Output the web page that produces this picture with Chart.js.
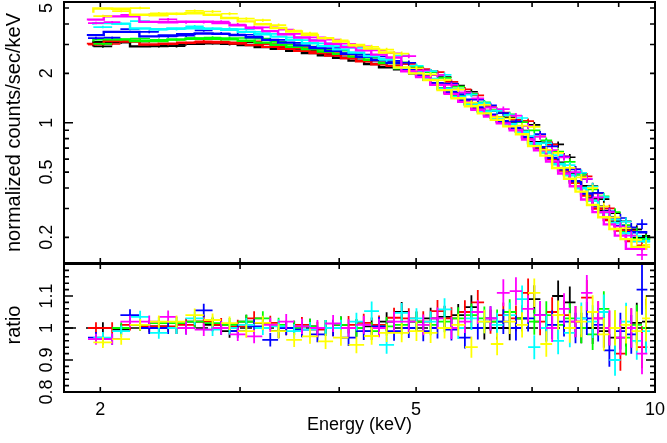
<!DOCTYPE html>
<html><head><meta charset="utf-8">
<script src="https://cdn.jsdelivr.net/npm/chart.js@4.4.1/dist/chart.umd.min.js"></script>
<style>
html,body{margin:0;padding:0;background:#fff;}
#wrap{position:relative;width:667px;height:443px;overflow:hidden;background:#fff;}
#c1{position:absolute;left:0;top:0;}
#c2{position:absolute;left:0;top:263px;}
</style></head><body>
<div id="wrap"><canvas id="c1" width="667" height="264" style="width:667px;height:264px"></canvas><canvas id="c2" width="667" height="180" style="width:667px;height:180px"></canvas></div>
<script>
// ---------- data ----------
const seriesColors = ['#000000','#ff0000','#00ff00','#0000ff','#00ffff','#ff00ff','#ffff00'];

// energy bin edges (keV)
const edgesA = [1.96,2.07,2.18,2.31,2.43,2.56,2.70,2.84,2.98,3.13,3.28,3.43,3.59,3.76,3.93,4.11,4.30,4.49,4.69,4.90,5.11,5.32,5.54,5.76,5.98,6.21,6.44,6.68,6.92,7.17,7.42,7.68,7.94,8.21,8.48,8.76,9.05,9.34,9.63,9.86];
const edgesB = [1.93,2.02,2.12,2.24,2.37,2.50,2.63,2.77,2.91,3.05,3.20,3.35,3.51,3.67,3.84,4.02,4.20,4.39,4.59,4.79,5.00,5.21,5.43,5.65,5.87,6.09,6.32,6.56,6.80,7.04,7.29,7.55,7.81,8.07,8.34,8.62,8.90,9.19,9.48,9.78];

// model (normalized counts/sec/keV) per bin
const modelBlack   = [2.92,3.10,3.10,2.92,2.93,3.00,3.03,3.05,3.03,2.97,2.89,2.82,2.74,2.66,2.58,2.49,2.39,2.28,2.18, 2.12,2.00,1.83,1.62,1.45,1.30,1.18,1.08,0.99,0.89,0.76,0.67,0.57,0.49,0.41,0.345,0.29,0.25,0.22,0.20];
const modelRed     = [3.00,3.02,3.15,3.12,3.00,3.03,3.07,3.09,3.08,3.04,2.97,2.90,2.82,2.74,2.66,2.57,2.47,2.37,2.27, 2.22,2.08,1.93,1.72,1.52,1.36,1.22,1.11,1.01,0.92,0.81,0.70,0.60,0.51,0.43,0.36,0.30,0.255,0.22,0.19];
const modelGreen   = [3.13,3.22,3.22,3.15,3.15,3.22,3.25,3.25,3.22,3.16,3.08,2.99,2.90,2.81,2.72,2.63,2.53,2.42,2.31, 2.15,2.01,1.84,1.61,1.44,1.29,1.17,1.07,0.98,0.88,0.75,0.66,0.56,0.48,0.40,0.335,0.285,0.245,0.215,0.195];
const modelBlue    = [3.38,3.42,3.58,3.58,3.36,3.40,3.47,3.50,3.48,3.42,3.32,3.20,3.08,2.96,2.85,2.74,2.63,2.52,2.41, 2.32,2.10,1.95,1.74,1.54,1.38,1.24,1.12,1.02,0.93,0.82,0.71,0.61,0.52,0.44,0.37,0.31,0.265,0.235,0.215];
const modelCyan    = [3.95,4.05,4.02,3.75,3.72,3.75,3.77,3.74,3.68,3.58,3.46,3.35,3.20,3.05,2.93,2.80,2.68,2.55,2.45, 2.16,2.02,1.85,1.61,1.44,1.29,1.17,1.07,0.98,0.88,0.75,0.66,0.56,0.48,0.40,0.335,0.285,0.245,0.212,0.19];
const modelMagenta = [4.20,4.25,4.45,4.45,4.12,4.10,4.13,4.13,4.05,3.92,3.78,3.62,3.46,3.31,3.17,3.03,2.89,2.76,2.60, 2.50,2.06,1.90,1.70,1.50,1.34,1.20,1.09,0.99,0.90,0.79,0.68,0.58,0.49,0.41,0.34,0.285,0.24,0.205,0.17];
const modelYellow  = [4.68,4.97,4.95,4.55,4.52,4.62,4.65,4.55,4.35,4.15,3.98,3.78,3.60,3.43,3.28,3.12,2.98,2.83,2.68, 2.17,2.00,1.82,1.58,1.41,1.26,1.14,1.04,0.95,0.85,0.72,0.63,0.53,0.455,0.38,0.315,0.265,0.225,0.195,0.175];

// data / model ratio per bin
const ratioBlack   = [1.00,0.995,1.01,1.005,1.00,1.02,1.01,0.99,1.02,1.015,0.99,1.00,1.005,1.00,1.01,1.00,1.005,1.02,1.05, 1.02,1.03,1.035,1.04,1.065,1.00,1.00,1.00,1.03,1.09,1.00,1.10,1.08,1.00,1.00,0.99,0.97,1.00,1.016,1.02];
const ratioRed     = [1.00,1.00,1.01,1.005,1.005,1.01,1.02,1.01,1.005,1.03,1.016,1.00,1.01,0.995,1.00,1.01,1.016,1.01,1.032, 1.03,1.02,1.053,1.03,1.05,1.08,1.02,1.04,1.03,1.11,1.02,1.05,1.04,1.02,1.095,1.03,1.00,0.92,1.00,0.94];
const ratioGreen   = [0.965,1.00,1.01,1.015,1.015,1.02,1.015,1.01,1.02,1.03,1.01,1.00,1.005,1.00,1.01,1.00,0.99,1.005,1.01, 1.02,1.01,1.02,1.03,1.04,1.03,1.02,1.05,1.03,1.02,1.04,1.01,1.03,1.00,0.98,1.06,1.00,0.97,1.01,1.00];
const ratioBlue    = [0.97,0.965,1.04,1.00,1.00,1.00,1.055,1.00,0.99,1.005,0.963,1.00,0.995,0.98,1.00,0.97,0.99,1.005,0.99, 1.00,0.99,1.00,0.995,0.97,1.00,1.03,1.02,1.00,1.03,1.04,1.01,1.02,1.00,1.03,1.01,0.93,0.99,0.98,1.12];
const ratioCyan    = [0.97,0.99,1.035,0.985,1.00,1.03,0.995,1.00,1.01,1.00,1.005,0.99,0.995,1.00,1.00,1.02,1.053,0.947,1.047, 1.03,1.02,1.058,1.00,1.03,1.02,1.01,1.04,1.09,0.94,1.00,0.96,0.985,1.03,1.02,1.05,0.90,1.02,0.96,0.99];
const ratioMagenta = [0.965,0.965,1.02,1.02,1.035,1.00,0.995,1.00,0.98,0.974,1.01,1.02,1.005,1.00,1.014,1.00,1.01,1.00,1.02, 1.02,1.01,1.03,1.00,1.02,1.05,1.03,1.11,1.115,1.06,1.04,1.00,1.06,1.02,1.11,1.03,1.00,0.97,1.00,0.92];
const ratioYellow  = [0.955,0.965,1.01,1.02,1.02,1.04,1.025,1.015,0.99,1.016,0.99,0.963,0.974,0.958,0.97,0.947,0.975,0.985,0.985, 0.99,0.985,1.00,1.01,0.94,1.02,0.95,1.02,1.01,1.11,0.95,1.04,1.00,1.02,1.05,0.98,1.00,1.01,0.99,1.03];

// relative 1-sigma errors per bin
const relErr = [0.018,0.018,0.018,0.019,0.019,0.020,0.020,0.021,0.021,0.022,0.022,0.023,0.024,0.025,0.026,0.027,0.028,0.029,0.030,0.031,0.032,0.033,0.034,0.035,0.036,0.037,0.038,0.039,0.040,0.042,0.044,0.046,0.048,0.050,0.052,0.055,0.058,0.062,0.070];

// axis ticks and labels
const xTickValues = [2,3,4,5,6,7,8,9];
const xLabelValues = ['2','5','10'];
const topMinorTicks = [0.2,0.3,0.4,0.5,0.6,0.7,0.8,0.9,2,3,4,5];
const topMajorTicks = [1];
const topLabels = ['0.2','0.5','1','2','5'];
const ratioMinorTicks = [0.82,0.84,0.86,0.88,0.92,0.94,0.96,0.98,1.02,1.04,1.06,1.08,1.12,1.14,1.16,1.18];
const ratioMajorTicks = [0.9,1.0,1.1];
const ratioLabels = ['0.8','0.9','1','1.1'];
const xTitle = 'Energy (keV)';
const topTitle = 'normalized counts/sec/keV';
const ratioTitle = 'ratio';

const series = [
  {edges: edgesA, model: modelBlack,   ratio: ratioBlack},
  {edges: edgesB, model: modelRed,     ratio: ratioRed},
  {edges: edgesA, model: modelGreen,   ratio: ratioGreen},
  {edges: edgesB, model: modelBlue,    ratio: ratioBlue},
  {edges: edgesA, model: modelCyan,    ratio: ratioCyan},
  {edges: edgesB, model: modelMagenta, ratio: ratioMagenta},
  {edges: edgesA, model: modelYellow,  ratio: ratioYellow}
];

// ---------- builders ----------
function stepPoints(s){
  const pts = [];
  for (let i = 0; i < s.model.length; i++) pts.push({x: s.edges[i], y: s.model[i]});
  pts.push({x: s.edges[s.model.length], y: s.model[s.model.length-1]});
  return pts;
}
function crossPoints(s, isRatio){
  const pts = [];
  for (let i = 0; i < s.model.length; i++) {
    const lo = s.edges[i], hi = s.edges[i+1], c = (lo+hi)/2;
    const y = isRatio ? s.ratio[i] : s.model[i]*s.ratio[i];
    const e = y*relErr[i];
    pts.push({x:lo,y:y},{x:hi,y:y},{x:c,y:null},{x:c,y:y-e},{x:c,y:y+e},{x:c,y:null});
  }
  return pts;
}

const TICK_FONT = '18px "Liberation Sans", Arial, sans-serif';
const YTITLE_FONT = '20px "Liberation Sans", Arial, sans-serif';
const XTITLE_FONT = '18px "Liberation Sans", Arial, sans-serif';
function decorate(chart, cfg){
  const ctx = chart.ctx, a = chart.chartArea, xs = chart.scales.x, ys = chart.scales.y;
  ctx.save();
  ctx.strokeStyle = '#000';
  ctx.lineWidth = 1.6;
  ctx.beginPath();
  for (const v of xTickValues) {
    const p = xs.getPixelForValue(v);
    ctx.moveTo(p, a.top); ctx.lineTo(p, a.top + 5);
    ctx.moveTo(p, a.bottom); ctx.lineTo(p, a.bottom - 5);
  }
  for (const v of cfg.minor) {
    const p = ys.getPixelForValue(v);
    ctx.moveTo(a.left, p); ctx.lineTo(a.left + 5, p);
    ctx.moveTo(a.right, p); ctx.lineTo(a.right - 5, p);
  }
  for (const v of cfg.major) {
    const p = ys.getPixelForValue(v);
    ctx.moveTo(a.left, p); ctx.lineTo(a.left + 9, p);
    ctx.moveTo(a.right, p); ctx.lineTo(a.right - 9, p);
  }
  ctx.stroke();
  ctx.lineWidth = 2;
  ctx.strokeRect(a.left, a.top, a.right - a.left, a.bottom - a.top);
  ctx.fillStyle = '#000';
  ctx.textAlign = 'center';
  ctx.textBaseline = 'alphabetic';
  ctx.font = TICK_FONT;
  for (const s of cfg.labels) {
    const p = ys.getPixelForValue(parseFloat(s));
    ctx.save(); ctx.translate(52, p); ctx.rotate(-Math.PI/2); ctx.fillText(s, 0, 0); ctx.restore();
  }
  ctx.font = YTITLE_FONT;
  ctx.save(); ctx.translate(20, (a.top + a.bottom)/2 + cfg.titleShift); ctx.rotate(-Math.PI/2); ctx.fillText(cfg.title, 0, 0); ctx.restore();
  if (cfg.xlabels) {
    ctx.font = TICK_FONT;
    for (const s of xLabelValues) {
      ctx.fillText(s, xs.getPixelForValue(parseFloat(s)), a.bottom + 23);
    }
    ctx.font = XTITLE_FONT;
    ctx.fillText(xTitle, (a.left + a.right)/2, a.bottom + 38);
  }
  ctx.restore();
}

function baseOptions(yopts, padding){
  return {
    responsive: false, animation: false, events: [],
    layout: {padding: padding, autoPadding: false},
    plugins: {legend: {display: false}, tooltip: {enabled: false}},
    scales: {
      x: {type: 'logarithmic', min: 1.8, max: 10, display: false},
      y: Object.assign({display: false}, yopts)
    }
  };
}

// ---------- top panel ----------
const topDatasets = [];
series.forEach((s, i) => {
  topDatasets.push({data: stepPoints(s), stepped: 'after', borderColor: seriesColors[i], borderWidth: 2.4, pointRadius: 0, fill: false, order: (7-i)*10+1});
  topDatasets.push({data: crossPoints(s, false), borderColor: seriesColors[i], borderWidth: 1.7, pointRadius: 0, fill: false, spanGaps: false, order: (7-i)*10});
});
new Chart(document.getElementById('c1'), {
  type: 'line',
  data: {datasets: topDatasets},
  options: baseOptions({type: 'logarithmic', min: 0.1395, max: 5.445}, {left: 64, right: 12, top: 2, bottom: 1}),
  plugins: [{id: 'frameTop', afterDatasetsDraw(chart){ decorate(chart, {minor: topMinorTicks, major: topMajorTicks, labels: topLabels, title: topTitle, titleShift: 0, xlabels: false}); }}]
});

// ---------- ratio panel ----------
const ratioDatasets = [{data: [{x: 1.8, y: 1}, {x: 10, y: 1}], borderColor: '#000', borderWidth: 1.6, borderDash: [12, 10], pointRadius: 0, fill: false, order: 100}];
series.forEach((s, i) => {
  ratioDatasets.push({data: crossPoints(s, true), borderColor: seriesColors[i], borderWidth: 1.8, pointRadius: 0, fill: false, spanGaps: false, order: (7-i)*10});
});
new Chart(document.getElementById('c2'), {
  type: 'line',
  data: {datasets: ratioDatasets},
  options: baseOptions({type: 'linear', min: 0.8, max: 1.2}, {left: 64, right: 12, top: 1, bottom: 51}),
  plugins: [{id: 'frameRatio', afterDatasetsDraw(chart){ decorate(chart, {minor: ratioMinorTicks, major: ratioMajorTicks, labels: ratioLabels, title: ratioTitle, titleShift: -3, xlabels: true}); }}]
});
</script>
</body></html>
